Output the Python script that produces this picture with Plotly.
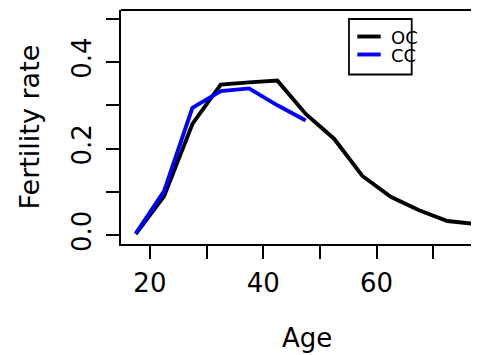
import plotly.graph_objects as go

# ---- data ----
ages_oc = [17.5, 22.5, 27.5, 32.5, 37.5, 42.5, 47.5, 52.5, 57.5, 62.5, 67.5, 72.5, 77.5]
rate_oc = [0.003, 0.090, 0.257, 0.348, 0.353, 0.357, 0.280, 0.223, 0.137, 0.089, 0.058, 0.033, 0.026]
ages_cc = [17.5, 22.5, 27.5, 32.5, 37.5, 42.5, 47.5]
rate_cc = [0.004, 0.102, 0.294, 0.333, 0.339, 0.300, 0.265]
series_names = ["OC", "CC"]
series_colors = ["#000000", "#0000ff"]
x_ticks = [20, 30, 40, 50, 60, 70]
x_ticklabels = ["20", "", "40", "", "60", ""]
y_ticks = [0.0, 0.1, 0.2, 0.3, 0.4, 0.5]
y_ticklabels = ["0.0", "", "0.2", "", "0.4", ""]
x_title = "Age"
y_title = "Fertility rate"

FONT = "DejaVu Sans, Liberation Sans, Arial, sans-serif"
AXFS = 26
LEGFS = 18

# The page body has an 8px margin, so the figure is drawn 8px in from the
# top-left corner of the window; size it so it ends exactly at the window edge.
OFF = 8
WIN_W, WIN_H = 479, 355
W, H = WIN_W - OFF, WIN_H - OFF
# plot box in window pixels (from the reference)
BOX_L, BOX_T, BOX_B = 121, 10, 244
ML, MT, MR, MB = BOX_L - OFF, BOX_T - OFF, 0, WIN_H - BOX_B
PW, PH = W - ML - MR, H - MT - MB


def px(xpix):
    return (xpix - BOX_L) / PW


def py(ypix):
    return (BOX_B - ypix) / PH


fig = go.Figure()
for xs, ys, name, col in [(ages_oc, rate_oc, series_names[0], series_colors[0]),
                          (ages_cc, rate_cc, series_names[1], series_colors[1])]:
    fig.add_trace(go.Scatter(x=xs, y=ys, mode="lines", name=name,
                             line=dict(color=col, width=3.9), showlegend=False))

axis_common = dict(showgrid=False, zeroline=False, showline=True, linecolor="black",
                   linewidth=1.8, ticks="outside", ticklen=13, tickwidth=1.8,
                   tickcolor="black", automargin=False,
                   tickfont=dict(family=FONT, size=AXFS, color="black"))

fig.update_xaxes(range=[14.9, 78.08], tickmode="array", tickvals=x_ticks,
                 ticktext=x_ticklabels, ticklabelstandoff=2, **axis_common)
fig.update_yaxes(range=[-0.02, 0.52], tickmode="array", tickvals=y_ticks,
                 ticktext=y_ticklabels, tickangle=-90, ticklabelstandoff=5, **axis_common)

shapes = [
    # top border of the box
    dict(type="line", xref="paper", yref="paper", x0=0, x1=1, y0=1, y1=1,
         line=dict(color="black", width=1.8)),
    # legend box
    dict(type="rect", xref="paper", yref="paper", x0=px(349), x1=px(411.7),
         y0=py(74.5), y1=py(19), line=dict(color="black", width=1.8)),
]
legend_y = [36.5, 54.5]
for i, (name, col) in enumerate(zip(series_names, series_colors)):
    shapes.append(dict(type="line", xref="paper", yref="paper", x0=px(357.3), x1=px(380.7),
                       y0=py(legend_y[i]), y1=py(legend_y[i]), line=dict(color=col, width=3.9)))

annotations = []
for i, name in enumerate(series_names):
    annotations.append(dict(text=name, xref="paper", yref="paper", x=px(388.5), y=py(legend_y[i] + 1),
                            xanchor="left", yanchor="middle", showarrow=False,
                            font=dict(family=FONT, size=LEGFS, color="black")))
annotations.append(dict(text=x_title, xref="paper", yref="paper", x=px(307), y=py(338),
                        xanchor="center", yanchor="middle", showarrow=False,
                        font=dict(family=FONT, size=AXFS, color="black")))
annotations.append(dict(text=y_title, xref="paper", yref="paper", x=px(29), y=py(127.5),
                        xanchor="center", yanchor="middle", showarrow=False, textangle=-90,
                        font=dict(family=FONT, size=27, color="black")))

fig.update_layout(width=W, height=H, autosize=False,
                  margin=dict(l=ML, r=MR, t=MT, b=MB, pad=0),
                  paper_bgcolor="white", plot_bgcolor="white",
                  shapes=shapes, annotations=annotations)

fig.write_html("out.html")
